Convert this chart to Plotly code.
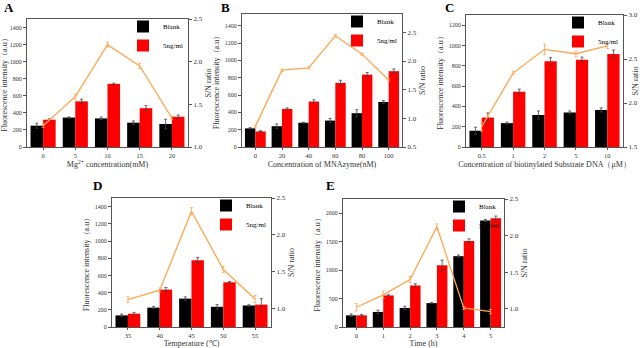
import plotly.graph_objects as go

# ---------------- data ----------------
A_x = ["0", "5", "10", "15", "20"]
A_blank = [250, 345, 335, 285, 270]
A_blank_err = [30, 8, 15, 20, 55]
A_sig = [320, 535, 740, 455, 355]
A_sig_err = [10, 25, 8, 30, 20]
A_sn = [1.25, 1.59, 2.20, 1.95, 1.34]
A_sn_err = [0.02, 0.03, 0.03, 0.03, 0.02]

B_x = ["0", "20", "40", "60", "80", "100"]
B_blank = [215, 240, 280, 305, 390, 520]
B_blank_err = [8, 25, 5, 25, 40, 15]
B_sig = [180, 440, 525, 740, 835, 875]
B_sig_err = [8, 12, 20, 30, 25, 25]
B_sn = [0.86, 1.84, 1.88, 2.44, 2.12, 1.67]
B_sn_err = [0.02, 0.02, 0.02, 0.02, 0.02, 0.02]

C_x = ["0.5", "1", "2", "5", "10"]
C_blank = [160, 235, 315, 340, 365]
C_blank_err = [35, 10, 40, 15, 20]
C_sig = [290, 545, 845, 860, 915]
C_sig_err = [45, 25, 35, 25, 40]
C_sn = [1.73, 2.34, 2.61, 2.56, 2.65]
C_sn_err = [0.05, 0.02, 0.06, 0.03, 0.03]

D_x = ["35", "40", "45", "50", "55"]
D_blank = [135, 225, 330, 235, 250]
D_blank_err = [15, 12, 20, 25, 8]
D_sig = [155, 435, 775, 520, 260]
D_sig_err = [15, 25, 35, 10, 70]
D_sn = [1.12, 1.25, 2.32, 1.53, 1.13]
D_sn_err = [0.04, 0.03, 0.05, 0.04, 0.05]

E_x = ["0", "1", "2", "3", "4", "5"]
E_blank = [205, 265, 335, 420, 1245, 1870]
E_blank_err = [25, 30, 30, 10, 20, 20]
E_sig = [205, 555, 730, 1085, 1510, 1910]
E_sig_err = [15, 10, 30, 90, 40, 40]
E_sn = [1.02, 1.19, 1.40, 2.12, 1.01, 0.96]
E_sn_err = [0.05, 0.05, 0.04, 0.04, 0.02, 0.03]

letters = ["A", "B", "C", "D", "E"]
x_titles = [
    "Mg<sup>2+</sup> concentration(mM)",
    "Concentration of MNAzyme(nM)",
    "Concentration of biotinylated Substrate DNA（μM）",
    "Temperature (℃)",
    "Time (h)",
]
y_title = "Fluorescence intensity（a.u）"
y2_title = "S/N ratio"
legend_names = ["Blank", "5ng/ml"]

panels = [
    (A_x, A_blank, A_blank_err, A_sig, A_sig_err, A_sn, A_sn_err),
    (B_x, B_blank, B_blank_err, B_sig, B_sig_err, B_sn, B_sn_err),
    (C_x, C_blank, C_blank_err, C_sig, C_sig_err, C_sn, C_sn_err),
    (D_x, D_blank, D_blank_err, D_sig, D_sig_err, D_sn, D_sn_err),
    (E_x, E_blank, E_blank_err, E_sig, E_sig_err, E_sn, E_sn_err),
]
left_ranges = [[0, 1500], [0, 1535], [0, 1300], [0, 1500], [0, 2250]]
left_dticks = [200, 200, 200, 200, 500]
right_ranges = [[1.0, 2.5], [0.5, 2.82], [1.5, 3.0], [0.75, 2.5], [0.75, 2.5]]

# ---------------- layout geometry (pixels) ----------------
W, H = 640, 348
boxes = [  # x0, x1, ytop, ybottom
    (27, 188, 19, 147),
    (242, 402, 14, 147),
    (466, 623, 15, 147),
    (112, 271, 198, 327),
    (343, 504, 199, 327),
]
letter_pos = [(9, 8), (225, 8), (449, 8), (97, 186), (330, 186)]

FONT = "Liberation Serif"
AX = "#555555"
TXT = "#333333"
ORANGE = "#FFA54F"

fig = go.Figure()
layout = dict(
    width=W, height=H, margin=dict(l=0, r=0, t=0, b=0),
    paper_bgcolor="white", plot_bgcolor="white",
    barmode="group", bargap=0.22, bargroupgap=0,
    font=dict(family=FONT, size=7, color=TXT),
    annotations=[],
)

for i, (xs, bl, ble, sg, sge, sn, sne) in enumerate(panels):
    k = i + 1
    xa = "x" if k == 1 else f"x{k}"
    ya = f"y{2*k-1}" if k > 1 else "y"
    yb = f"y{2*k}"
    leg = "legend" if k == 1 else f"legend{k}"
    x0, x1, yt, ybt = boxes[i]

    fig.add_trace(go.Bar(x=xs, y=bl, name=legend_names[0], marker_color="black",
                         marker_line_width=0, xaxis=xa, yaxis=ya, legend=leg,
                         error_y=dict(type="data", array=ble, color="#444", thickness=0.8, width=1.5)))
    fig.add_trace(go.Bar(x=xs, y=sg, name=legend_names[1], marker_color="#FF0000",
                         marker_line_width=0, xaxis=xa, yaxis=ya, legend=leg,
                         error_y=dict(type="data", array=sge, color="#444", thickness=0.8, width=1.5)))
    fig.add_trace(go.Scatter(x=xs, y=sn, mode="lines", line=dict(color=ORANGE, width=1.3),
                             xaxis=xa, yaxis=yb, showlegend=False,
                             error_y=dict(type="data", array=sne, color=ORANGE, thickness=0.8, width=1.5)))

    dom_x = [x0 / W, x1 / W]
    dom_y = [1 - ybt / H, 1 - yt / H]
    xkey = "xaxis" if k == 1 else f"xaxis{k}"
    ykey = "yaxis" if k == 1 else f"yaxis{2*k-1}"
    y2key = f"yaxis{2*k}"
    layout[xkey] = dict(
        domain=dom_x, anchor=ya, type="category",
        showline=True, linecolor=AX, linewidth=1, mirror=True,
        ticks="outside", ticklen=2, tickcolor=AX, showgrid=False,
        tickfont=dict(size=6.5, color=TXT),
        title=dict(text=x_titles[i], font=dict(size=8, color=TXT), standoff=3),
        automargin=False,
    )
    layout[ykey] = dict(
        domain=dom_y, anchor=xa, range=left_ranges[i], dtick=left_dticks[i],
        showline=True, linecolor=AX, linewidth=1,
        ticks="outside", ticklen=3, tickcolor=AX, showgrid=False, zeroline=False,
        tickfont=dict(size=6, color=TXT),
        title=dict(text=y_title, font=dict(size=8, color=TXT), standoff=3),
        automargin=False,
    )
    layout[y2key] = dict(
        overlaying=ya, side="right", anchor=xa, range=right_ranges[i], dtick=0.5,
        tickformat=".1f",
        showline=True, linecolor=AX, linewidth=1,
        ticks="outside", ticklen=3, tickcolor=AX, showgrid=False, zeroline=False,
        tickfont=dict(size=7, color=TXT),
        title=dict(text=y2_title, font=dict(size=8, color=TXT), standoff=3),
        automargin=False,
    )
    layout[leg] = dict(
        x=x1 / W, y=1 - (yt - 7) / H, xanchor="right", yanchor="top",
        bgcolor="rgba(255,255,255,0)", borderwidth=0,
        font=dict(size=7, color="#000"), tracegroupgap=0,
        itemwidth=30,
    )
    lx, ly = letter_pos[i]
    layout["annotations"].append(dict(
        text=f"<b>{letters[i]}</b>", x=lx / W, y=1 - ly / H, xref="paper", yref="paper",
        xanchor="center", yanchor="middle", showarrow=False,
        font=dict(size=13, color="black", family=FONT),
    ))

fig.update_layout(**layout)
fig.write_html(
    "out.html",
    config={"displayModeBar": False},
    post_script="document.body.style.margin='0px';document.body.style.padding='0px';",
)
